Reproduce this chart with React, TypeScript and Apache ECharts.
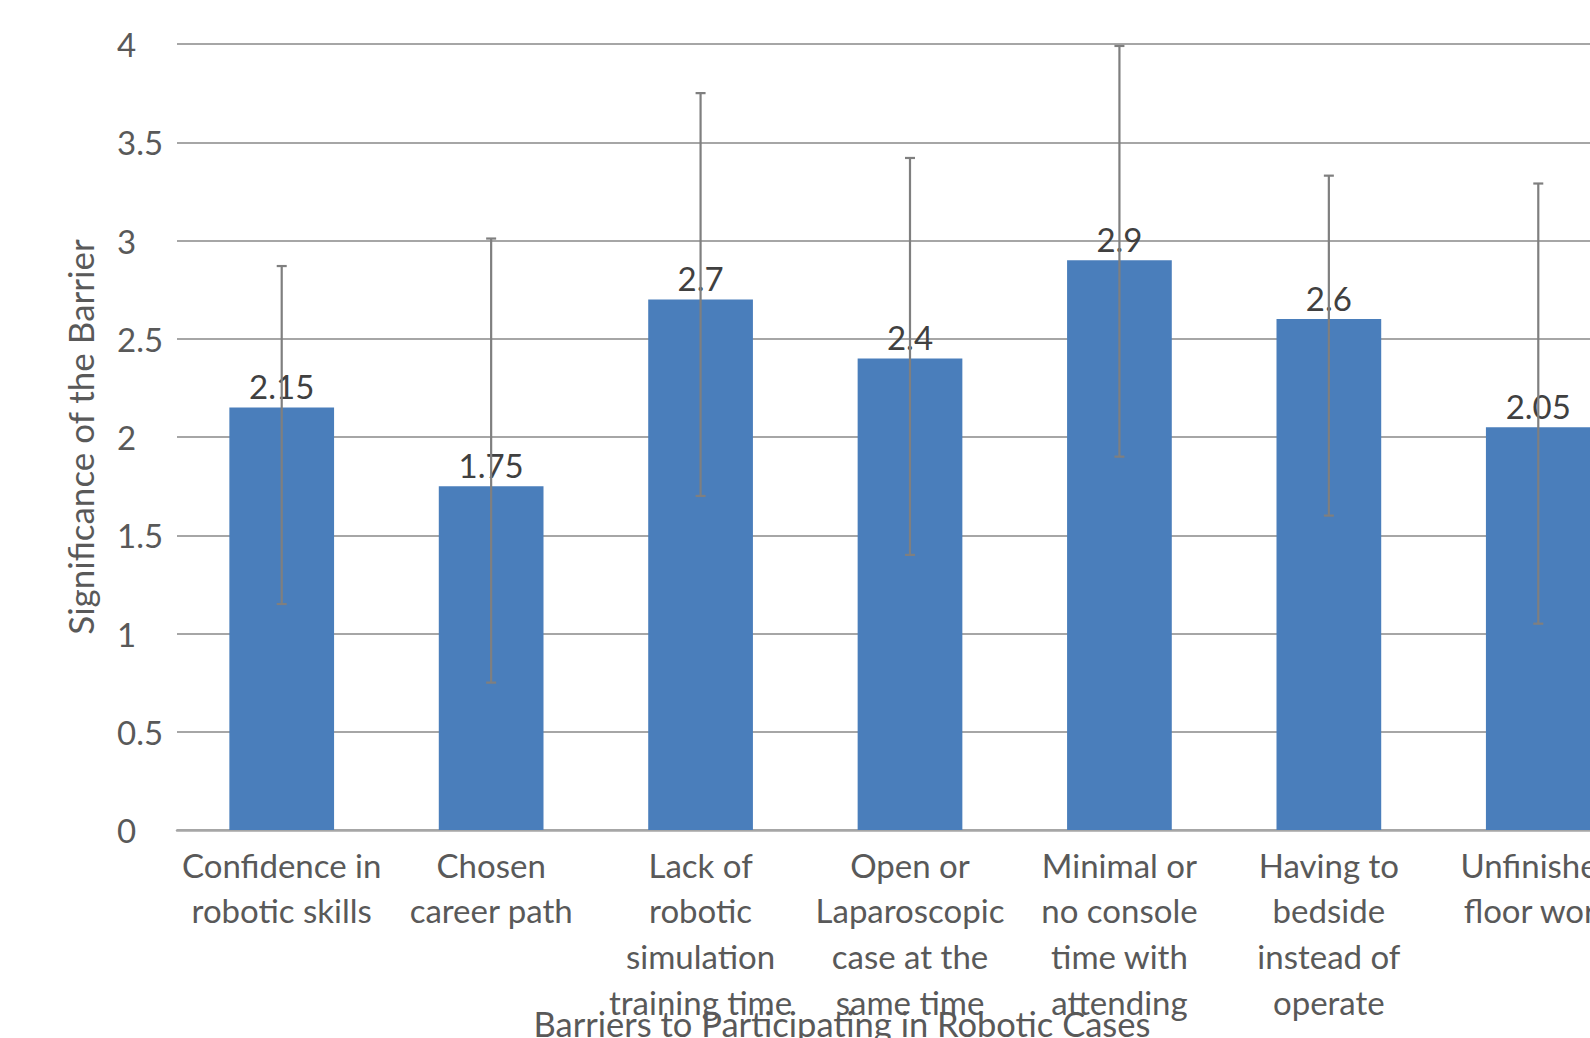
import React, { useEffect, useRef } from "react";
import * as echarts from "echarts";

const categories = [
  "Confidence in\nrobotic skills",
  "Chosen\ncareer path",
  "Lack of\nrobotic\nsimulation\ntraining time",
  "Open or\nLaparoscopic\ncase at the\nsame time",
  "Minimal or\nno console\ntime with\nattending",
  "Having to\nbedside\ninstead of\noperate",
  "Unfinished\nfloor work",
];
const means = [2.15, 1.75, 2.7, 2.4, 2.9, 2.6, 2.05];
const errLow = [1.15, 0.75, 1.7, 1.4, 1.9, 1.6, 1.05];
const errHigh = [2.87, 3.01, 3.75, 3.42, 3.99, 3.33, 3.29];
const yTitle = "Significance of the Barrier";
const xTitle = "Barriers to Participating in Robotic Cases";

const FONT = "Lato, 'Open Sans', sans-serif";

export default function App() {
  const ref = useRef<HTMLDivElement>(null);
  useEffect(() => {
    if (!ref.current) return;
    const chart = echarts.init(ref.current, null, { renderer: "svg" });
    const errData = means.map((_, i) => [i, errLow[i], errHigh[i]]);
    chart.setOption({
      animation: false,
      backgroundColor: "#ffffff",
      textStyle: { fontFamily: FONT },
      grid: { left: 177, top: 44, bottom: 208, right: -53, containLabel: false, outerBoundsMode: "none" },
      xAxis: {
        type: "category",
        data: categories,
        boundaryGap: true,
        axisTick: { show: false },
        axisLine: { lineStyle: { color: "#a6a6a6", width: 2.5 } },
        axisLabel: {
          interval: 0,
          fontSize: 33,
          lineHeight: 45.6,
          color: "#595959",
          fontFamily: FONT,
          margin: 12,
        },
      },
      yAxis: {
        type: "value",
        min: 0,
        max: 4,
        interval: 0.5,
        axisLine: { show: false },
        axisTick: { show: false },
        splitLine: { lineStyle: { color: "#a6a6a6", width: 2.2 } },
        axisLabel: {
          fontSize: 33,
          color: "#595959",
          fontFamily: FONT,
          align: "left",
          margin: 60,
        },
        name: yTitle,
        nameLocation: "middle",
        nameGap: 80,
        nameTextStyle: { fontSize: 35, color: "#595959", fontFamily: FONT },
      },
      series: [
        {
          type: "bar",
          data: means,
          barCategoryGap: "50%",
          itemStyle: { color: "#4a7ebb" },
          label: {
            show: true,
            position: "top",
            distance: 5,
            fontSize: 33,
            color: "#404040",
            fontFamily: FONT,
          },
          z: 2,
        },
        {
          type: "custom",
          data: errData,
          encode: { x: 0, y: [1, 2] },
          z: 5,
          renderItem: (params: any, api: any) => {
            const x = api.value(0);
            const lo = api.coord([x, api.value(1)]);
            const hi = api.coord([x, api.value(2)]);
            const style = { stroke: "#7f7f7f", lineWidth: 2.2 };
            const cap = 5;
            return {
              type: "group",
              children: [
                { type: "line", shape: { x1: lo[0], y1: lo[1], x2: hi[0], y2: hi[1] }, style },
                { type: "line", shape: { x1: hi[0] - cap, y1: hi[1], x2: hi[0] + cap, y2: hi[1] }, style },
                { type: "line", shape: { x1: lo[0] - cap, y1: lo[1], x2: lo[0] + cap, y2: lo[1] }, style },
              ],
            };
          },
        },
      ],
      graphic: [
        {
          type: "text",
          x: 842,
          y: 1023,
          z: 10,
          style: {
            text: xTitle,
            fontSize: 34.5,
            fontFamily: FONT,
            fill: "#595959",
            align: "center",
            verticalAlign: "middle",
          },
        },
      ],
    });
    return () => chart.dispose();
  }, []);
  return (
    <div
      ref={ref}
      style={{ position: "absolute", left: 0, top: 0, width: 1590, height: 1038, overflow: "hidden" }}
    />
  );
}
